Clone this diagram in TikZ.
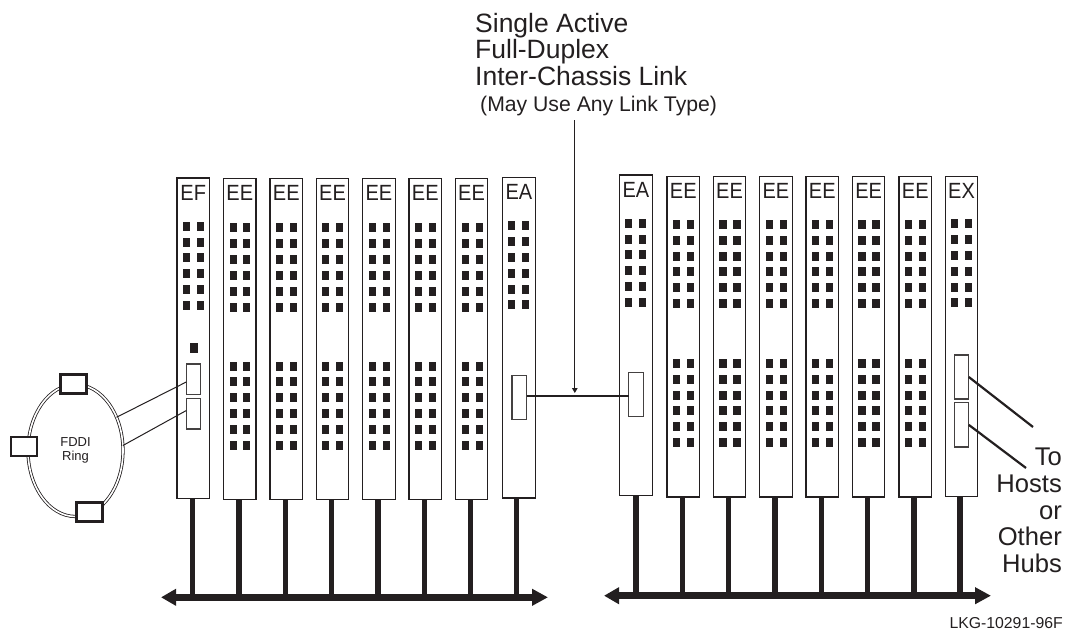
\documentclass[tikz,border=0pt]{standalone}
\usepackage{fontspec}
\setmainfont{Liberation Sans}
\usetikzlibrary{arrows.meta,calc,shapes.geometric}
\definecolor{ink}{HTML}{231F20}
\tikzset{
  modbox/.style={draw=ink,line width=1.1pt,fill=white,rectangle,anchor=north west,inner sep=0pt,outer sep=0pt,minimum width=32.5pt},
  portbox/.style={draw=ink!85,line width=1.1pt,fill=white,rectangle,anchor=north west,inner sep=0pt,outer sep=0pt,minimum width=14.5pt},
  stationbox/.style={draw=ink,line width=2.3pt,fill=white,rectangle,anchor=north west,inner sep=0pt,outer sep=0pt,minimum width=26pt,minimum height=19pt},
  modlabel/.style={text=ink,font=\fontsize{20}{20}\selectfont,inner sep=0pt,anchor=base},
  ledsq/.style={fill=ink,draw=none},
  stem/.style={draw=ink,line width=5.4pt},
  bus/.style={draw=ink,line width=7pt,{Triangle[length=15pt,width=16pt]}-{Triangle[length=16pt,width=16pt]}},
  thinlink/.style={draw=ink,line width=1pt},
  hostlink/.style={draw=ink,line width=2.2pt},
}
\newcommand{\ledblock}[3]{% x1, x2, y list
  \foreach \cx in {#1,#2}{\foreach \cy in {#3}{\fill[ledsq] (\cx,\cy) rectangle ++(7.2,8.8);}}}
\begin{document}
\begin{tikzpicture}[x=1pt,y=-1pt]
\useasboundingbox (0,0) rectangle (1068,630);
% left bank
\foreach \nm/\lx/\ty/\by/\txt in {
  la/177/178/498.7/EF, lb/223.5/178.5/499.5/EE, lc/270/178.5/499.5/EE, ld/316.3/178.5/499.5/EE,
  le/362.6/178.5/499.5/EE, lf/409/178.5/499.5/EE, lg/455.3/178.5/499.5/EE, lh/502.7/177.5/498/EA}{
  \pgfmathsetmacro{\mh}{\by-\ty}
  \node[modbox,minimum height=\mh pt] (\nm) at (\lx,\ty) {};
  \node[modlabel] (\nm lab) at ($(\nm.north)+(0,22)$) {\scalebox{1}[1.1]{\txt}};
}
% right bank
\foreach \nm/\lx/\ty/\by/\txt in {
  ra/619.7/175/495.7/EA, rb/667/176.5/497/EE, rc/713.3/176.5/497/EE, rd/759.6/176.5/497/EE,
  re/806/176.5/497/EE, rf/852.4/176.5/497/EE, rg/899/176.5/497/EE, rh/945.3/176.5/496.7/EX}{
  \pgfmathsetmacro{\mh}{\by-\ty}
  \node[modbox,minimum height=\mh pt] (\nm) at (\lx,\ty) {};
  \node[modlabel] (\nm lab) at ($(\nm.north)+(0,22)$) {\scalebox{1}[1.1]{\txt}};
}
% LEDs left bank
\ledblock{183}{197}{222,238,253,269,285,301}
\fill[ledsq] (190,343) rectangle (198,353);
\ledblock{230}{243}{223,239,255,271,287,303}
\ledblock{230}{243}{362.3,377,393,409,425,441}
\foreach \xa/\xb in {276/290,322/336,368.5/382.5,415/429,461.5/475.5}{
  \ledblock{\xa}{\xb}{223,239,255,271,287,303}
  \ledblock{\xa}{\xb}{362.3,377,393,409,425,441}
}
\ledblock{508}{522}{221,237,253,269,285,300}
% LEDs right bank
\ledblock{625}{639}{219,235,250,266,282,298}
\foreach \xa/\xb in {673/687,719.3/733.3,765.6/779.6,812/826,858.4/872.4,905/919}{
  \ledblock{\xa}{\xb}{220,236,252,267,283,299}
  \ledblock{\xa}{\xb}{359,375,391,406,422,438}
}
\ledblock{951}{965}{219,235,251,267,283,298}
% ports
\node[portbox,minimum height=30.5pt] (efpa) at (186.3,364) {};
\node[portbox,minimum height=30.3pt] (efpb) at (186.3,398.7) {};
\node[portbox,minimum height=44pt] (lhp) at (512,375.3) {};
\node[portbox,minimum height=44.4pt] (rap) at (628.7,372.3) {};
\node[portbox,minimum height=44pt] (rhpa) at (954.3,355) {};
\node[portbox,minimum height=44.3pt] (rhpb) at (954.3,402.7) {};
% buses
\coordinate (busLa) at (161,597.3);
\coordinate (busLb) at (548,597.3);
\coordinate (busRa) at (604,595.7);
\coordinate (busRb) at (991,595.7);
\foreach \m/\dx in {la/15.5,lb/15.5,lc/15.3,ld/15.3,le/15.3,lf/15.3,lg/15.3,lh/14}{
  \coordinate (s\m) at ($(\m.south west)+(\dx,0)$);
  \draw[stem] (s\m) -- (s\m |- busLa);
}
\foreach \m/\dx in {ra/16.3,rb/15.2,rc/15.2,rd/15.4,re/15.3,rf/15,rg/15,rh/14.5}{
  \coordinate (s\m) at ($(\m.south west)+(\dx,0)$);
  \draw[stem] (s\m) -- (s\m |- busRa);
}
\draw[bus] (busLa) -- (busLb);
\draw[bus] (busRa) -- (busRb);
% FDDI ring
\node[ellipse,draw=ink,line width=.8pt,double=white,double distance=1.6pt,fill=white,
  minimum width=95pt,minimum height=132pt,inner sep=0pt,outer sep=0pt,
  align=center,text=ink,font=\fontsize{13}{13.5}\selectfont] (ring) at (75.5,450.5) {FDDI\\Ring};
\node[stationbox] (sta) at (60.5,374.5) {};
\node[stationbox] (stb) at (11,437) {};
\node[stationbox] (stc) at (76.5,502.5) {};
\draw[thinlink] (ring.39) -- ($(efpa.north west)!.59!(efpa.south west)$);
\draw[thinlink] (ring.6) -- ($(efpb.north west)!.39!(efpb.south west)$);
% inter-chassis link
\coordinate (linkL) at ($(lhp.east)+(0,-1)$);
\coordinate (linkR) at ($(rap.west)+(0,1.8)$);
\draw[hostlink] (linkL) -- (linkR);
\coordinate (arrTop) at (574.8,120);
\coordinate (arrEnd) at (574.8,393);
\draw[thinlink,line width=1.1pt,-{Triangle[length=5pt,width=5.5pt]}] (arrTop) -- (arrEnd);
% host links
\coordinate (hostA) at (1033,427);
\coordinate (hostB) at (1026,468);
\draw[hostlink] (rhpa.east) -- (hostA);
\draw[hostlink] (rhpb.east) -- (hostB);
% texts
\node[anchor=north west,inner sep=0pt,align=left,text=ink,font=\fontsize{26.5}{26.5}\selectfont] (title) at (475,13) {Single Active\\Full-Duplex\\Inter-Chassis Link};
\node[anchor=base west,inner sep=0pt,text=ink,font=\fontsize{21.2}{21.2}\selectfont] (titlesub) at (480,111) {(May Use Any Link Type)};
\node[anchor=north east,inner sep=0pt,align=right,text=ink,font=\fontsize{25.6}{26.7}\selectfont] (tohosts) at (1062,448) {To\\Hosts\\or\\Other\\Hubs};
\node[anchor=base east,inner sep=0pt,text=ink,font=\fontsize{15.8}{16}\selectfont] (lkg) at (1063,628) {LKG-10291-96F};
\end{tikzpicture}
\end{document}
